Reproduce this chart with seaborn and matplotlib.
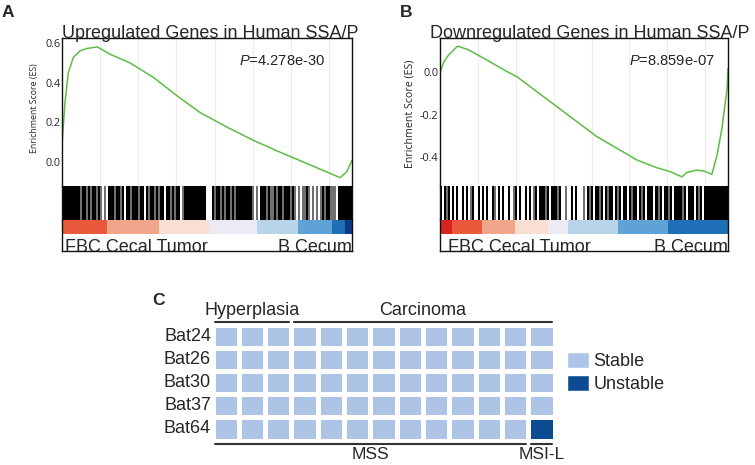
import numpy as np
import matplotlib
matplotlib.use("Agg")
import matplotlib.pyplot as plt
import seaborn as sns
from matplotlib.colors import ListedColormap
from matplotlib.patches import Patch

sns.set_style("white")
plt.rcParams['font.family'] = ['Liberation Sans', 'DejaVu Sans']
plt.rcParams['mathtext.fontset'] = 'custom'
plt.rcParams['mathtext.rm'] = 'Liberation Sans'
plt.rcParams['mathtext.it'] = 'Liberation Sans:italic'

# ---- data ----
N_GENES = 15200

# panel A: running enrichment score
up_rank = [0, 157, 330, 593, 942, 1292, 1854, 2523, 3557, 4788, 6019, 7235,
           8634, 10032, 11430, 12844, 13893, 14577, 14926, 15200]
up_es = [0.09, 0.30, 0.45, 0.527, 0.56, 0.572, 0.58, 0.543, 0.50, 0.427, 0.335,
         0.25, 0.177, 0.11, 0.05, -0.007, -0.05, -0.078, -0.048, 0.01]

# panel B: running enrichment score
down_rank = [15, 198, 456, 730, 927, 1520, 2478, 3542, 4058, 5122, 6171, 7235,
             8284, 9348, 10397, 11446, 12160, 12768, 13042, 13558, 13923, 14349,
             14622, 14881, 15154, 15200]
down_es = [0.0, 0.048, 0.08, 0.104, 0.122, 0.104, 0.056, 0.002, -0.022, -0.093,
           -0.163, -0.234, -0.304, -0.359, -0.414, -0.45, -0.469, -0.493, -0.472,
           -0.461, -0.466, -0.481, -0.391, -0.265, -0.077, 0.017]

# gene-set hits along the ranked list ('#' hit, '+' faint hit, '.' none)
up_hits = ("########"
           "#+##+#+##+#"
           "+.+.#"
           "##+##+#.##+###+##.#+##+#+##.##+#+##.+#"
           "##########"
           "..."
           "#+##+#+##+#+##"
           "######"
           "+.+."
           "###"
           "+#++#+"
           "##+###+#"
           "+.+.+"
           "+#+.+"
           ".+.+"
           "#+##+"
           "++."
           "#######")
down_hits = ("#.#+#.#.#..#.#.+#..#.#.#..#+.#.#..#.+#.#..#.#.+#.#"
             "##+#.###+#"
             "..+..#.#...+."
             "#+#.##+#.#+##.#+#.##.#+##.#+#.###.#+#.##+#.#"
             "###+#.###.#+#.##"
             "##########")

# ranked list metric (colour bar), block edges in rank units and level 0..1
up_metric_edges = [0, 2359, 5084, 7704, 10220, 12372, 14151, 14833, 15200]
up_metric_vals = [0.875, 0.75, 0.625, 0.5, 0.375, 0.25, 0.125, 0.0]
down_metric_edges = [0, 633, 2217, 3958, 5700, 6756, 9394, 12033, 15200]
down_metric_vals = [1.0, 0.875, 0.75, 0.625, 0.5, 0.375, 0.25, 0.125]

# panel C: microsatellite status (0 stable, 1 unstable)
markers = ["Bat24", "Bat26", "Bat30", "Bat37", "Bat64"]
instability = [
    [0, 0, 0, 0, 0, 0, 0, 0, 0, 0, 0, 0, 0],
    [0, 0, 0, 0, 0, 0, 0, 0, 0, 0, 0, 0, 0],
    [0, 0, 0, 0, 0, 0, 0, 0, 0, 0, 0, 0, 0],
    [0, 0, 0, 0, 0, 0, 0, 0, 0, 0, 0, 0, 0],
    [0, 0, 0, 0, 0, 0, 0, 0, 0, 0, 0, 0, 1],
]
tissue_groups = [("Hyperplasia", 0, 3), ("Carcinoma", 3, 13)]
msi_groups = [("MSS", 0, 12), ("MSI-L", 12, 13)]

GREEN = "#5cbd44"
STABLE = "#aec4e6"
UNSTABLE = "#0e4c92"
HIT_COLORS = {'#': '#000000', '+': '#707070'}
RANK_CMAP = sns.blend_palette(["#0b3a82", "#1f6fb6", "#5ea3d6", "#b6d4e8", "#eceaf4",
                               "#f9e0d4", "#f1a88e", "#ea5b3c", "#d8231f"], as_cmap=True)

W, H = 755, 465
fig = plt.figure(figsize=(7.55, 4.65), dpi=100)


def box(x0, y0, x1, y1):
    # pixel box -> figure fraction
    return [x0 / W, 1 - y1 / H, (x1 - x0) / W, (y1 - y0) / H]


def draw_gsea(x0, x1, rank, es, hits, edges, vals, ylim, yticks, title, title_x,
              pval, ylab_pos, ylab_size, fbc_x):
    ax = fig.add_axes(box(x0, 38, x1, 186))
    sns.lineplot(x=rank, y=es, ax=ax, color=GREEN, linewidth=1.1)
    ax.set_xlim(0, N_GENES)
    ax.set_ylim(*ylim)
    ax.set_xticks(np.arange(2000, N_GENES, 2000))
    ax.set_xticklabels([])
    ax.set_yticks(yticks)
    ax.set_yticklabels([f"{t:.1f}" for t in yticks], fontfamily='Open Sans')
    ax.tick_params(length=0, pad=1, labelsize=7.8)
    ax.grid(axis='x', color='#ececec', linewidth=0.8)
    ax.spines['bottom'].set_visible(False)
    for s in ['left', 'right', 'top']:
        ax.spines[s].set_linewidth(1.0)
        ax.spines[s].set_color('#111111')
    ax.set_xlabel('')
    ax.set_ylabel('')
    ax.text(pval[0], 0.818, '$P$=' + pval[1], transform=ax.transAxes,
            ha='right', va='baseline', fontsize=10.6)
    fig.text(title_x / W, 1 - 37.5 / H, title, ha='left', va='baseline', fontsize=13)
    fig.text(ylab_pos[0] / W, 1 - ylab_pos[1] / H, "Enrichment Score (ES)",
             rotation=90, ha='center', va='center', fontsize=ylab_size,
             fontfamily='Open Sans')

    # hits barcode
    bx = fig.add_axes(box(x0, 186, x1, 220))
    bins = np.linspace(0, N_GENES, len(hits) + 1)
    centers = (bins[:-1] + bins[1:]) / 2
    idx = [i for i, c in enumerate(hits) if c != '.']
    bx.bar(centers[idx], 1, width=bins[1] - bins[0],
           color=[HIT_COLORS[hits[i]] for i in idx], linewidth=0)
    bx.set_xlim(0, N_GENES)
    bx.set_ylim(0, 1)
    bx.set_xticks([])
    bx.set_yticks([])
    for s in ['top', 'bottom']:
        bx.spines[s].set_visible(False)
    for s in ['left', 'right']:
        bx.spines[s].set_linewidth(1.0)
        bx.spines[s].set_color('#111111')

    # ranked metric colour bar
    rx = fig.add_axes(box(x0, 220, x1, 251))
    rx.pcolormesh(edges, [0.55, 1.0], [vals], cmap=RANK_CMAP, vmin=0, vmax=1)
    rx.set_xlim(0, N_GENES)
    rx.set_ylim(0, 1)
    rx.set_xticks([])
    rx.set_yticks([])
    rx.spines['top'].set_visible(False)
    for s in ['left', 'right', 'bottom']:
        rx.spines[s].set_linewidth(1.0)
        rx.spines[s].set_color('#111111')
    rx.text(fbc_x, -0.04, "FBC Cecal Tumor", transform=rx.transAxes,
            ha='left', va='baseline', fontsize=13, clip_on=True)
    rx.text(0.998, -0.04, "B Cecum", transform=rx.transAxes,
            ha='right', va='baseline', fontsize=13, clip_on=True)


draw_gsea(62, 352, up_rank, up_es, up_hits, up_metric_edges, up_metric_vals,
          (-0.12, 0.625), [0.0, 0.2, 0.4, 0.6],
          "Upregulated Genes in Human SSA/P", 62, (0.907, "4.278e-30"),
          (35, 108), 6.3, 0.01)
draw_gsea(440, 728, down_rank, down_es, down_hits, down_metric_edges, down_metric_vals,
          (-0.536, 0.16), [-0.4, -0.2, 0.0],
          "Downregulated Genes in Human SSA/P", 430, (0.955, "8.859e-07"),
          (410, 114), 7.7, 0.028)

# panel C heatmap
axc = fig.add_axes(box(212.5, 324.5, 554.5, 440.5))
sns.heatmap(np.array(instability), ax=axc, cmap=ListedColormap([STABLE, UNSTABLE]),
            vmin=0, vmax=1, cbar=False, linewidths=3.6, linecolor='white',
            xticklabels=False, yticklabels=markers)
axc.tick_params(axis='y', length=0, pad=1, labelsize=13)
plt.setp(axc.get_yticklabels(), rotation=0)

for name, s, e in tissue_groups:
    axc.plot([s + 0.1, e - 0.1], [-0.12, -0.12], color='#333333', lw=1.5, clip_on=False)
    axc.text((s + e) / 2, -0.6, name, ha='center', va='center', fontsize=13)
for name, s, e in msi_groups:
    axc.plot([s + 0.1, e - 0.1], [5.15, 5.15], color='#333333', lw=1.5, clip_on=False)
    axc.text((s + e) / 2, 5.3, name, ha='center', va='top', fontsize=12.5)

fig.legend(handles=[Patch(facecolor=STABLE, label='Stable'),
                    Patch(facecolor=UNSTABLE, label='Unstable')],
           loc='upper left', bbox_to_anchor=(567 / W, 1 - 352 / H), frameon=False,
           fontsize=13, handlelength=1.2, handleheight=1.0, handletextpad=0.25,
           labelspacing=0.25, borderpad=0, borderaxespad=0)

# panel letters
fig.text(2 / W, 1 - 17 / H, "A", fontsize=12.5, fontweight='bold', va='baseline')
fig.text(400 / W, 1 - 17 / H, "B", fontsize=12.5, fontweight='bold', va='baseline')
fig.text(152 / W, 1 - 305 / H, "C", fontsize=12.5, fontweight='bold', va='baseline')

fig.savefig("out.png", dpi=100)
